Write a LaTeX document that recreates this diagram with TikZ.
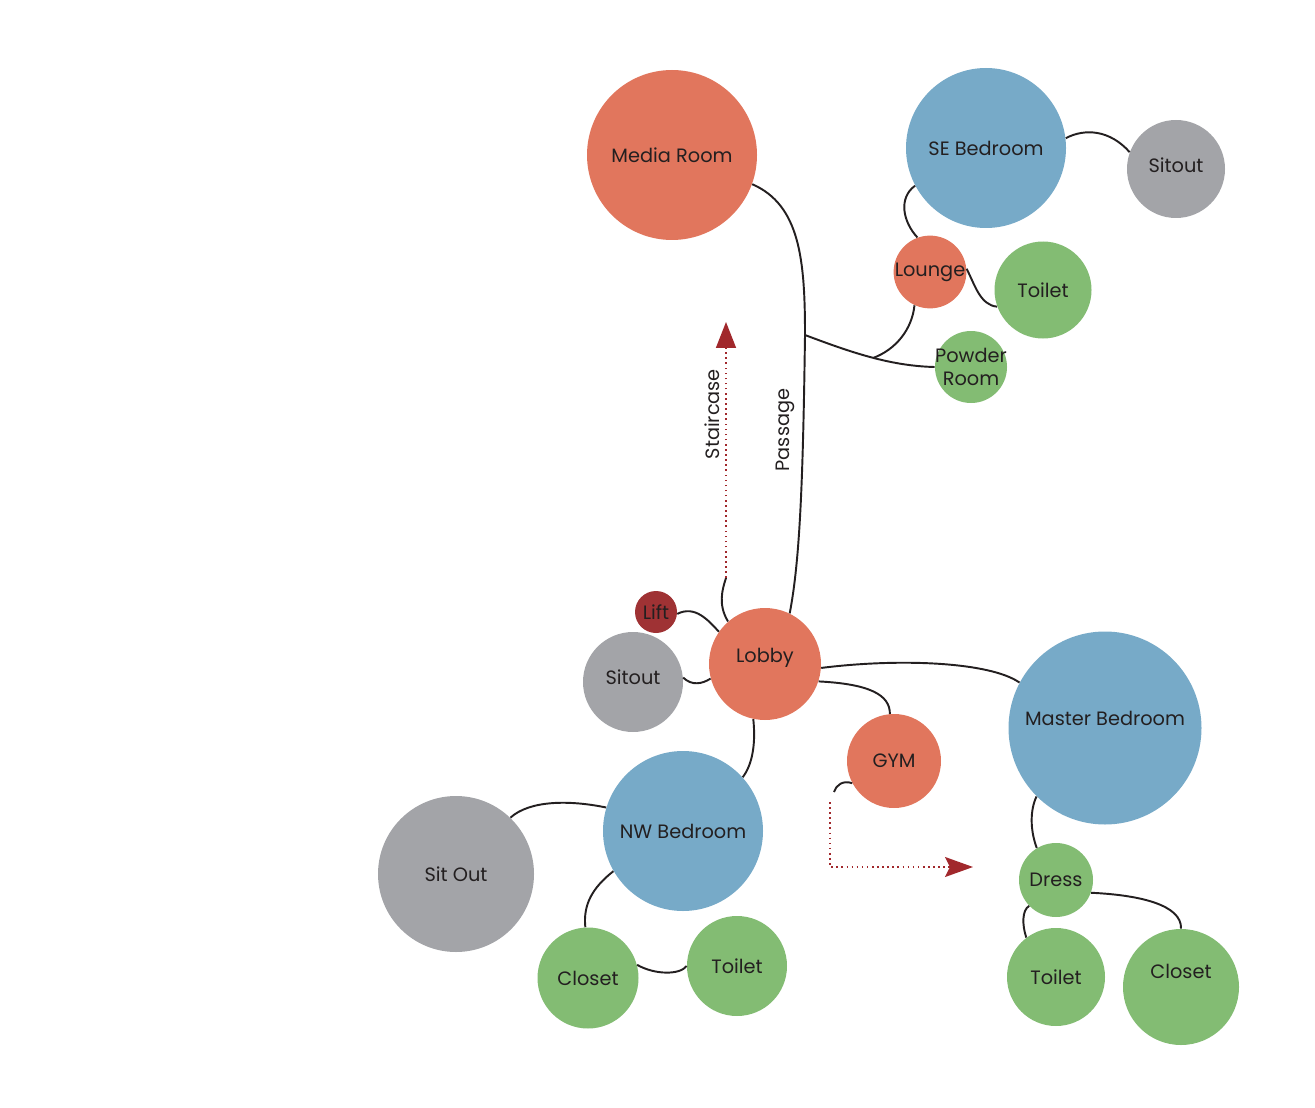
\documentclass[tikz,border=0pt]{standalone}
\usepackage{fontspec}
\setmainfont{Poppins}
\usetikzlibrary{arrows.meta}

\definecolor{roomred}{HTML}{E1765D}
\definecolor{roomblue}{HTML}{77AAC8}
\definecolor{roomgray}{HTML}{A3A4A8}
\definecolor{roomgreen}{HTML}{83BC73}
\definecolor{liftred}{HTML}{9F3234}
\definecolor{stairred}{HTML}{A1282C}
\definecolor{ink}{HTML}{231F20}

\tikzset{
  room/.style={circle, fill=#1, inner sep=0pt, text=ink, font=\fontsize{11}{13}\selectfont, align=center},
  dia/.style={minimum size=#1*0.02cm},
  textup/.style={text depth=#1*0.02cm},
  link/.style={line width=1.1pt, ink},
  flow/.style={line width=0.9pt, stairred, dotted}
}

\begin{document}
\begin{tikzpicture}[x=0.02cm, y=-0.02cm]

\useasboundingbox (0,0) rectangle (1315,1108);

%%% --- Upper floor --- %%%
\node[room=roomred, dia=170] (media) at (672,155) {Media Room};
\node[room=roomblue, dia=160] (se) at (986,148) {SE Bedroom};
\node[room=roomgray, dia=98, textup=8] (sitoutse) at (1176,169) {Sitout};
\node[room=roomred, dia=72] (lounge) at (930,272) {Lounge};
\node[room=roomgreen, dia=97] (toiletse) at (1043,290) {Toilet};
\node[room=roomgreen, dia=72] (powder) at (971,367) {\makebox[0pt]{Powder}\\\makebox[0pt]{Room}};

%%% --- Lobby and around --- %%%
\node[room=liftred, dia=42] (lift) at (656,612) {Lift};
\node[room=roomred, dia=112, textup=18] (lobby) at (765,664) {Lobby};
\node[room=roomgray, dia=100, textup=10] (sitoutlobby) at (633,682) {Sitout};
\node[room=roomred, dia=94] (gym) at (894,761) {GYM};

%%% --- Master suite --- %%%
\node[room=roomblue, dia=193, textup=20] (master) at (1105,728) {Master Bedroom};
\node[room=roomgreen, dia=74] (dress) at (1056,880) {Dress};
\node[room=roomgreen, dia=98] (toiletm) at (1056,977) {Toilet};
\node[room=roomgreen, dia=116, textup=32] (closetm) at (1181,987) {Closet};

%%% --- NW suite --- %%%
\node[room=roomblue, dia=160] (nw) at (683,831) {NW Bedroom};
\node[room=roomgray, dia=156] (sitoutnw) at (456,874) {Sit Out};
\node[room=roomgreen, dia=101] (closetnw) at (588,978) {Closet};
\node[room=roomgreen, dia=100] (toiletnw) at (737,966) {Toilet};

%%% --- Passage and its branches --- %%%
\coordinate (passjoin) at (805,335);
\coordinate (loungejoin) at (873,358);

\draw[link] (media.-20) .. controls (800,205) and (805,260) .. (passjoin)
  .. controls (803,480) and (800,560) .. (lobby.64);
\node[rotate=90, text=ink, font=\fontsize{11}{13}\selectfont] (passage) at (785,430) {Passage};

\draw[link] (passjoin) .. controls (850,352) and (890,366) .. (powder.180);
\draw[link] (lounge.-115) .. controls (912,330) and (895,350) .. (loungejoin);
\draw[link] (se.-152) .. controls (898,198) and (903,222) .. (lounge.110);
\draw[link] (lounge.5) .. controls (975,285) and (980,305) .. (toiletse.200);
\draw[link] (se.7) .. controls (1085,128) and (1110,130) .. (sitoutse.160);

%%% --- Lobby links --- %%%
\draw[link] (lift.-5) .. controls (695,605) and (708,620) .. (lobby.145);
\draw[link] (sitoutlobby.5) .. controls (692,686) and (702,684) .. (lobby.195);
\draw[link] (lobby.-4) .. controls (900,658) and (990,662) .. (master.152);
\draw[link] (lobby.-18) .. controls (870,684) and (890,695) .. (gym.95);
\draw[link] (lobby.-102) .. controls (756,745) and (752,765) .. (nw.42);

% staircase going up
\coordinate (stairfoot) at (726,578);
\coordinate (stairtop) at (726,322);
\draw[link] (lobby.131) .. controls (718,605) and (722,590) .. (stairfoot);
\draw[flow, -{Triangle[length=0.52cm, width=0.4cm]}] (stairfoot) -- (stairtop)
  node[pos=0.64, sloped, above, text=ink, font=\fontsize{11}{13}\selectfont] (staircase) {Staircase};

% from the gym down to the master suite
\coordinate (gymfoot) at (834,792);
\coordinate (gymturn) at (830,867);
\coordinate (gymend) at (973,867);
\draw[link] (gym.208) .. controls (843,780) and (836,785) .. (gymfoot);
\draw[flow, -{Stealth[length=0.56cm, width=0.4cm, inset=0.1cm]}] (830,802) -- (gymturn) -- (gymend);

%%% --- Suite links --- %%%
\draw[link] (master.225) .. controls (1030,810) and (1030,830) .. (dress.121);
\draw[link] (dress.224) .. controls (1022,910) and (1022,925) .. (toiletm.127);
\draw[link] (dress.-20) .. controls (1140,895) and (1182,905) .. (closetm.90);

\draw[link] (nw.163) .. controls (570,800) and (530,800) .. (sitoutnw.46);
\draw[link] (nw.210) .. controls (592,888) and (583,905) .. (closetnw.93);
\draw[link] (closetnw.15) .. controls (655,975) and (680,975) .. (toiletnw.180);

\end{tikzpicture}
\end{document}
